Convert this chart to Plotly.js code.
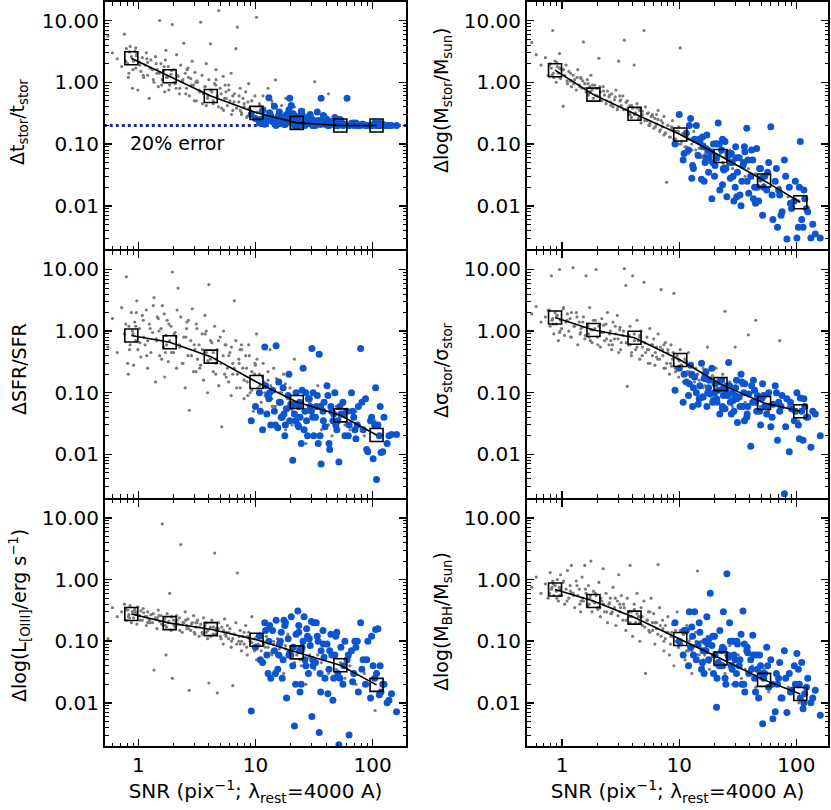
<!DOCTYPE html>
<html>
<head>
<meta charset="utf-8">
<script src="https://cdn.plot.ly/plotly-3.0.1.min.js"></script>
<style>
body { margin: 0; background: #fff; }
#graph { width: 831px; height: 810px; }
</style>
</head>
<body>
<div id="graph"></div>
<script>
// SNR of the simulated spectra (gray) and of the real spectra (blue), shared by all panels
let gray_snr = [
    0.55, 0.60, 0.66, 0.72, 0.76, 0.79, 0.81, 0.83, 0.85, 0.87,
    0.89, 0.91, 0.93, 0.95, 0.97, 0.99, 1.02, 1.05, 1.08, 1.11,
    1.14, 1.17, 1.20, 1.24, 1.28, 1.32, 1.36, 1.40, 1.44, 1.48,
    1.52, 1.56, 1.60, 1.64, 1.68, 1.72, 1.76, 1.80, 1.85, 1.90,
    1.95, 2.00, 2.06, 2.12, 2.18, 2.24, 2.30, 2.37, 2.44, 2.51,
    2.58, 2.65, 2.72, 2.80, 2.88, 2.96, 3.04, 3.12, 3.20, 3.30,
    3.40, 3.50, 3.60, 3.70, 3.80, 3.90, 4.00, 4.12, 4.24, 4.36,
    4.48, 4.60, 4.72, 4.85, 5.00, 5.15, 5.30, 5.45, 5.60, 5.75,
    5.90, 6.05, 6.20, 6.40, 6.60, 6.80, 7.00, 7.20, 7.40, 7.60,
    7.80, 8.00, 8.25, 8.50, 8.75, 9.00, 9.30, 9.60, 9.90, 10.2,
    10.5, 10.8, 11.2, 11.6, 12.0, 12.4, 12.8, 13.3, 13.8, 14.3,
    14.8, 15.4, 16.0, 16.7, 17.4, 18.1, 18.9, 19.7, 20.6, 21.5,
    22.5, 23.5, 24.6, 25.8, 27.0, 28.5, 30.0, 32.0, 34.0, 36.5,
    39.0, 42.0, 45.0, 49.0, 53.0, 58.0, 64.0, 72.0, 85.0, 105,
    0.78, 0.84, 0.90, 0.96, 1.03, 1.10, 1.18, 1.26, 1.34, 1.42,
    1.50, 1.58, 1.66, 1.74, 1.82, 1.92, 2.02, 2.14, 2.26, 2.40,
    2.54, 2.68, 2.84, 3.00, 3.16, 3.34, 3.52, 3.72, 3.92, 4.14,
    4.36, 4.58, 4.82, 5.08, 5.34, 5.62, 5.92, 6.24, 6.56, 6.90,
    7.25, 7.60, 8.00, 8.40, 8.85, 9.30, 9.80, 10.3, 10.9, 11.5,
    12.1, 12.8, 13.5, 14.3, 15.1, 16.0, 17.0, 18.0, 19.2, 20.5,
    0.82, 0.95, 1.2, 1.45, 1.7, 2.1, 2.6, 3.1, 3.8, 4.6,
    5.5, 6.4, 7.4, 8.6, 10.0, 11.8, 13.9, 16.5, 24.0, 29.0
];
let blue_snr = [
    9.2, 10.0, 10.8, 11.5, 12.0, 12.5, 13.0, 13.5, 14.0, 14.5,
    15.0, 15.5, 16.0, 16.6, 17.2, 17.8, 18.4, 19.0, 19.6, 20.2,
    20.8, 21.5, 22.2, 23.0, 23.8, 24.6, 25.5, 26.4, 27.3, 28.3,
    29.3, 30.3, 31.4, 32.5, 33.7, 35.0, 36.3, 37.7, 39.2, 40.8,
    42.4, 44.0, 45.8, 47.6, 49.5, 51.5, 53.6, 55.8, 58.0, 60.5,
    63.0, 66.0, 69.0, 72.0, 75.5, 79.0, 83.0, 87.0, 91.0, 96.0,
    101, 106, 108, 111, 114, 118, 125, 133, 145, 160,
    12.8, 15.8, 18.0, 21.0, 24.0, 27.8, 31.0, 34.3, 38.5, 46.5,
    11.0, 13.2, 14.8, 16.3, 17.5, 19.3, 22.0, 23.4, 25.0, 26.0,
    28.8, 30.8, 33.0, 35.6, 38.0, 41.5, 44.8, 48.5, 52.5, 56.8,
    62.0, 67.5, 74.0, 81.0, 89.0, 98.0, 104, 116, 122, 138,
    12.2, 16.9, 20.0, 23.4, 26.9, 30.0, 36.0, 43.0, 50.5, 70.5
];
let bin_snr = [0.87, 1.85, 4.15, 10.2, 22.5, 53, 108];

// panel 1: delta t_stor / t_stor
let tstor_gray = [
    5.6, 3.0, 2.4, 1.8, 6.0, 3.5, 2.0, 1.4, 3.8, 2.6,
    0.8, 2.2, 3.2, 1.7, 2.9, 0.75, 2.1, 1.5, 2.5, 1.2,
    1.9, 3.0, 1.3, 0.55, 2.3, 1.6, 1.0, 2.6, 1.4, 0.85,
    10.0, 2.0, 1.1, 1.5, 0.7, 3.3, 1.2, 1.8, 0.9, 1.35,
    8.6, 1.6, 0.95, 2.8, 1.25, 0.65, 1.9, 1.05, 4.3, 1.4,
    0.8, 1.7, 0.6, 1.15, 2.2, 0.9, 1.45, 0.5, 1.0, 0.75,
    9.4, 1.3, 0.65, 0.85, 2.0, 0.55, 1.1, 4.2, 0.7, 0.45,
    0.95, 1.6, 0.6, 14.5, 0.8, 0.38, 1.25, 0.55, 0.7, 0.42,
    0.9, 0.5, 1.4, 0.35, 0.65, 3.5, 7.8, 0.48, 0.8, 0.3,
    0.55, 0.4, 0.7, 0.28, 0.95, 0.36, 0.5, 0.25, 0.6, 11.3,
    0.33, 0.45, 0.27, 0.6, 0.38, 0.24, 0.8, 0.3, 0.5, 0.26,
    1.09, 0.35, 0.25, 0.42, 0.28, 0.55, 0.23, 0.32, 0.26, 0.4,
    0.24, 0.3, 0.22, 0.36, 0.26, 0.21, 0.28, 1.02, 0.24, 0.3,
    0.22, 0.65, 0.25, 0.21, 0.27, 0.22, 0.23, 0.21, 0.2, 0.2,
    2.2, 3.1, 1.6, 2.7, 1.9, 1.3, 2.4, 1.7, 1.1, 2.0,
    1.4, 0.9, 1.8, 1.2, 0.75, 1.55, 1.0, 1.3, 0.8, 1.1,
    0.65, 1.2, 0.9, 0.5, 1.05, 0.7, 0.45, 0.85, 0.6, 0.75,
    0.5, 0.9, 0.4, 0.65, 0.35, 0.55, 0.75, 0.3, 0.48, 0.38,
    0.6, 0.32, 0.45, 0.27, 0.38, 0.5, 0.25, 0.33, 0.42, 0.28,
    0.35, 0.26, 0.3, 0.23, 0.4, 0.25, 0.22, 0.3, 0.24, 0.21,
    1.2, 3.6, 2.1, 1.6, 2.3, 0.8, 1.6, 1.0, 0.42, 1.1,
    0.9, 0.6, 0.35, 0.48, 0.26, 0.3, 0.45, 0.28, 0.23, 0.25
];
let tstor_blue = [
    0.3, 0.26, 0.22, 0.35, 0.21, 0.25, 0.56, 0.29, 0.23, 0.41,
    0.2, 0.27, 0.33, 0.22, 0.25, 0.21, 0.3, 0.24, 0.55, 0.42,
    0.22, 0.2, 0.28, 0.25, 0.21, 0.34, 0.23, 0.2, 0.26, 0.22,
    0.3, 0.21, 0.24, 0.2, 0.33, 0.22, 0.55, 0.26, 0.21, 0.25,
    0.2, 0.23, 0.21, 0.27, 0.2, 0.22, 0.24, 0.2, 0.21, 0.55,
    0.2, 0.21, 0.2, 0.22, 0.2, 0.2, 0.21, 0.2, 0.2, 0.2,
    0.2, 0.21, 0.2, 0.2, 0.22, 0.2, 0.2, 0.2, 0.2, 0.2,
    0.24, 0.29, 0.21, 0.31, 0.23, 0.27, 0.2, 0.24, 0.28, 0.22,
    0.25, 0.32, 0.22, 0.28, 0.21, 0.36, 0.24, 0.2, 0.3, 0.22,
    0.26, 0.2, 0.23, 0.21, 0.29, 0.2, 0.22, 0.2, 0.25, 0.21,
    0.2, 0.22, 0.2, 0.21, 0.2, 0.2, 0.22, 0.2, 0.21, 0.2,
    0.27, 0.23, 0.26, 0.2, 0.24, 0.26, 0.21, 0.23, 0.2, 0.21
];
let tstor_bin = [2.45, 1.25, 0.6, 0.32, 0.22, 0.2, 0.2];

// panel 2: delta log(M_stor / M_sun)
let mstar_gray = [
    4.4, 2.8, 1.9, 2.5, 1.3, 2.0, 1.7, 6.9, 1.2, 2.2,
    1.0, 1.8, 1.4, 2.9, 1.15, 1.6, 0.41, 1.3, 1.9, 0.95,
    1.5, 1.05, 0.85, 1.3, 1.1, 0.75, 1.6, 0.9, 1.2, 0.8,
    4.5, 0.95, 0.7, 1.1, 0.62, 0.85, 1.3, 0.75, 0.55, 0.9,
    0.8, 0.6, 2.45, 0.7, 0.5, 0.85, 0.62, 0.45, 0.72, 0.58,
    0.48, 0.65, 0.4, 0.52, 0.75, 0.36, 2.2, 0.5, 0.42, 0.6,
    4.8, 0.36, 0.5, 0.3, 0.42, 0.27, 0.38, 1.9, 0.32, 0.45,
    0.26, 0.35, 0.22, 0.3, 6.9, 0.4, 0.24, 0.32, 0.2, 0.28,
    0.3, 0.18, 0.26, 0.21, 0.35, 0.16, 0.24, 0.19, 0.28, 0.15,
    0.024, 0.2, 0.13, 0.17, 0.24, 0.12, 0.16, 0.1, 0.19, 3.6,
    0.11, 0.15, 0.09, 0.13, 0.07, 0.12, 0.1, 0.16, 0.08, 0.11,
    0.085, 0.06, 0.1, 0.07, 0.09, 0.05, 0.08, 0.065, 0.11, 0.055,
    0.07, 0.05, 0.06, 0.045, 0.08, 0.04, 0.055, 0.035, 0.05, 0.03,
    0.04, 0.028, 0.033, 0.025, 0.022, 0.018, 0.006, 0.02, 0.014, 0.012,
    1.9, 1.4, 2.1, 1.2, 1.6, 1.05, 1.4, 0.95, 1.2, 0.85,
    1.05, 0.8, 0.95, 0.7, 0.9, 0.62, 0.8, 0.55, 0.72, 0.5,
    0.62, 0.45, 0.58, 0.4, 0.52, 0.36, 0.47, 0.32, 0.42, 0.3,
    0.38, 0.27, 0.34, 0.24, 0.31, 0.22, 0.28, 0.19, 0.25, 0.17,
    0.22, 0.15, 0.2, 0.13, 0.18, 0.12, 0.16, 0.1, 0.14, 0.09,
    0.12, 0.08, 0.11, 0.07, 0.1, 0.065, 0.09, 0.055, 0.08, 0.05,
    1.3, 1.7, 1.05, 1.15, 0.68, 0.85, 0.42, 0.6, 0.3, 0.38,
    0.2, 0.3, 0.14, 0.19, 0.1, 0.15, 0.07, 0.1, 0.045, 0.06
];
let mstar_blue = [
    0.1, 0.3, 0.055, 0.15, 0.08, 0.26, 0.045, 0.12, 0.2, 0.065,
    0.11, 0.027, 0.09, 0.05, 0.14, 0.035, 0.075, 0.013, 0.1, 0.045,
    0.06, 0.22, 0.018, 0.08, 0.04, 0.11, 0.014, 0.065, 0.028, 0.05,
    0.012, 0.09, 0.035, 0.06, 0.01, 0.045, 0.075, 0.18, 0.016, 0.03,
    0.055, 0.02, 0.085, 0.012, 0.04, 0.007, 0.03, 0.018, 0.05, 0.19,
    0.006, 0.025, 0.0045, 0.015, 0.008, 0.055, 0.0029, 0.02, 0.009, 0.012,
    0.003, 0.02, 0.11, 0.006, 0.0045, 0.013, 0.008, 0.003, 0.0035, 0.003,
    0.028, 0.13, 0.06, 0.1, 0.038, 0.07, 0.014, 0.025, 0.055, 0.02,
    0.07, 0.04, 0.12, 0.025, 0.08, 0.05, 0.1, 0.022, 0.04, 0.07,
    0.03, 0.06, 0.015, 0.05, 0.025, 0.08, 0.011, 0.04, 0.02, 0.035,
    0.015, 0.04, 0.007, 0.03, 0.011, 0.025, 0.0045, 0.018, 0.009, 0.005,
    0.2, 0.06, 0.03, 0.12, 0.05, 0.02, 0.09, 0.013, 0.028, 0.018
];
let mstar_bin = [1.57, 0.63, 0.31, 0.143, 0.064, 0.0256, 0.0114];

// panel 3: delta SFR / SFR
let sfr_gray = [
    0.55, 1.6, 0.45, 2.4, 0.9, 7.6, 0.3, 1.2, 0.6, 2.0,
    1.0, 0.28, 1.4, 0.7, 3.1, 0.5, 1.1, 0.38, 1.8, 0.8,
    0.6, 2.2, 0.25, 1.3, 0.45, 0.95, 3.5, 0.15, 0.7, 1.6,
    0.4, 1.1, 2.6, 0.55, 0.18, 0.85, 1.5, 0.32, 0.7, 1.2,
    9.1, 0.45, 0.95, 0.25, 5.0, 0.6, 1.7, 0.3, 0.8, 0.12,
    1.1, 0.4, 0.052, 0.7, 2.3, 0.22, 0.5, 1.3, 0.35, 0.6,
    0.28, 0.9, 0.16, 1.8, 0.45, 0.1, 5.7, 0.35, 0.65, 0.22,
    1.2, 0.3, 0.5, 0.13, 0.8, 0.028, 0.4, 0.2, 0.6, 0.25,
    0.15, 0.45, 0.09, 0.3, 3.1, 0.7, 0.2, 0.35, 0.12, 0.5,
    0.25, 0.08, 0.4, 0.15, 0.6, 0.1, 0.22, 0.05, 0.3, 0.9,
    0.12, 0.2, 0.07, 0.3, 0.1, 0.045, 0.16, 0.5, 0.08, 0.25,
    0.06, 0.14, 0.04, 0.1, 0.2, 0.025, 0.08, 0.12, 0.05, 0.35,
    0.07, 0.03, 0.11, 0.05, 0.015, 0.08, 0.04, 0.06, 0.13, 0.025,
    0.05, 0.03, 0.02, 0.06, 0.04, 0.03, 0.025, 0.05, 0.02, 0.035,
    1.3, 0.5, 0.9, 2.0, 0.65, 1.5, 0.4, 1.1, 2.6, 0.75,
    1.0, 0.35, 1.9, 0.6, 1.3, 0.45, 0.9, 2.2, 0.55, 0.3,
    0.8, 1.5, 0.4, 0.6, 1.1, 0.25, 0.5, 0.9, 0.33, 0.7,
    0.45, 0.2, 0.7, 0.3, 1.0, 0.18, 0.4, 0.55, 0.25, 0.12,
    0.3, 0.6, 0.16, 0.25, 0.4, 0.11, 0.2, 0.35, 0.13, 0.18,
    0.09, 0.22, 0.13, 0.06, 0.17, 0.1, 0.045, 0.14, 0.08, 0.03,
    0.2, 1.2, 0.7, 1.7, 0.45, 0.8, 1.4, 0.22, 1.0, 0.35,
    0.6, 0.2, 0.5, 0.09, 0.28, 0.15, 0.06, 0.1, 0.04, 0.07
];
let sfr_blue = [
    0.035, 0.06, 0.1, 0.025, 0.55, 0.045, 0.08, 0.03, 0.11, 0.05,
    0.58, 0.027, 0.07, 0.04, 0.12, 0.02, 0.055, 0.09, 0.035, 0.06,
    0.008, 0.045, 0.1, 0.03, 0.07, 0.015, 0.25, 0.05, 0.035, 0.08,
    0.06, 0.52, 0.02, 0.04, 0.09, 0.42, 0.007, 0.05, 0.028, 0.13,
    0.015, 0.06, 0.035, 0.1, 0.025, 0.0075, 0.045, 0.07, 0.02, 0.05,
    0.03, 0.1, 0.04, 0.018, 0.06, 0.52, 0.025, 0.08, 0.011, 0.035,
    0.0085, 0.12, 0.0039, 0.03, 0.02, 0.0107, 0.04, 0.015, 0.021, 0.021,
    0.09, 0.15, 0.03, 0.065, 0.04, 0.02, 0.1, 0.015, 0.07, 0.045,
    0.05, 0.1, 0.03, 0.07, 0.045, 0.2, 0.035, 0.06, 0.11, 0.025,
    0.08, 0.04, 0.06, 0.02, 0.035, 0.09, 0.05, 0.03, 0.06, 0.045,
    0.02, 0.05, 0.03, 0.07, 0.012, 0.04, 0.03, 0.06, 0.011, 0.02,
    0.13, 0.04, 0.065, 0.028, 0.1, 0.05, 0.06, 0.012, 0.035, 0.025
];
let sfr_bin = [0.85, 0.66, 0.385, 0.149, 0.0706, 0.043, 0.0206];

// panel 4: delta sigma_stor / sigma_stor
let sigma_gray = [
    1.9, 2.5, 1.4, 1.7, 2.2, 1.2, 7.9, 1.6, 0.9, 2.0,
    1.3, 1.8, 0.7, 10, 1.5, 1.1, 2.3, 0.85, 1.4, 1.9,
    1.0, 1.6, 0.8, 10.7, 1.2, 2.0, 0.6, 1.4, 0.95, 1.15,
    1.7, 0.75, 7.9, 1.3, 0.9, 2.4, 1.05, 0.65, 1.5, 1.1,
    10, 0.8, 1.2, 0.55, 1.6, 0.95, 0.7, 1.3, 2.0, 0.6,
    1.0, 0.5, 1.4, 0.75, 0.9, 1.8, 0.45, 1.15, 0.65, 0.85,
    10.3, 5.5, 0.127, 0.6, 1.2, 0.4, 7.9, 0.9, 0.5, 1.5,
    0.7, 0.35, 1.0, 0.55, 6.2, 0.45, 0.8, 0.3, 1.1, 0.6,
    0.4, 0.75, 0.28, 0.55, 0.9, 0.35, 4.7, 0.5, 0.25, 0.65,
    0.3, 0.45, 0.2, 0.6, 0.35, 4.1, 0.25, 0.4, 0.18, 0.5,
    0.28, 0.15, 0.35, 0.22, 0.45, 0.18, 0.3, 0.12, 0.25, 0.2,
    0.16, 0.3, 0.12, 0.22, 0.55, 0.1, 0.18, 0.14, 0.25, 0.08,
    0.12, 0.2, 2.1, 0.1, 0.15, 0.06, 0.55, 0.09, 0.13, 0.07,
    0.87, 0.1, 1.5, 0.06, 0.08, 0.05, 0.04, 0.7, 0.06, 0.035,
    2.2, 1.3, 1.8, 1.0, 2.4, 1.5, 0.8, 1.2, 1.7, 0.9,
    1.4, 0.85, 1.2, 0.7, 1.05, 1.5, 0.6, 0.95, 1.25, 0.75,
    0.9, 0.6, 1.2, 0.75, 0.5, 1.0, 0.65, 0.85, 0.45, 0.7,
    0.55, 0.8, 0.4, 0.65, 0.5, 0.3, 0.6, 0.45, 0.35, 0.55,
    0.4, 0.25, 0.5, 0.3, 0.45, 0.22, 0.35, 0.28, 0.2, 0.32,
    0.22, 0.28, 0.15, 0.2, 0.12, 0.25, 0.16, 0.1, 0.19, 0.13,
    1.5, 0.95, 2.0, 1.1, 0.8, 1.3, 0.7, 1.05, 0.6, 0.85,
    0.5, 0.38, 0.6, 0.27, 0.33, 0.2, 0.17, 0.13, 0.09, 0.1
];
let sigma_blue = [
    0.11, 0.25, 0.07, 0.15, 0.09, 0.28, 0.06, 0.18, 0.1, 0.065,
    0.13, 0.3, 0.085, 0.2, 0.06, 0.12, 0.095, 0.25, 0.075, 0.14,
    0.08, 0.11, 0.045, 0.16, 0.09, 0.055, 0.13, 0.31, 0.07, 0.1,
    0.05, 0.12, 0.033, 0.085, 0.2, 0.06, 0.14, 0.04, 0.095, 0.0135,
    0.07, 0.11, 0.05, 0.085, 0.03, 0.14, 0.06, 0.045, 0.1, 0.028,
    0.065, 0.13, 0.017, 0.05, 0.09, 0.0023, 0.08, 0.011, 0.055, 0.035,
    0.1, 0.018, 0.082, 0.05, 0.017, 0.06, 0.04, 0.013, 0.045, 0.02,
    0.2, 0.085, 0.16, 0.07, 0.12, 0.045, 0.08, 0.15, 0.06, 0.09,
    0.2, 0.12, 0.08, 0.17, 0.1, 0.07, 0.15, 0.055, 0.11, 0.09,
    0.075, 0.16, 0.06, 0.1, 0.045, 0.13, 0.07, 0.05, 0.09, 0.06,
    0.04, 0.1, 0.06, 0.028, 0.07, 0.05, 0.03, 0.08, 0.04, 0.05,
    0.14, 0.22, 0.1, 0.06, 0.13, 0.09, 0.035, 0.16, 0.08, 0.07
];
let sigma_bin = [1.66, 1.04, 0.78, 0.34, 0.138, 0.068, 0.05];

// panel 5: delta log(L_[OIII] / erg s^-1)
let oiii_gray = [
    0.11, 0.35, 0.25, 0.3, 0.4, 0.22, 0.32, 0.27, 0.38, 0.2,
    0.3, 0.24, 0.33, 0.28, 0.19, 0.36, 0.26, 0.31, 0.22, 0.29,
    0.25, 0.18, 0.3, 0.22, 0.27, 0.2, 0.034, 0.24, 0.16, 0.32,
    0.21, 0.26, 8.0, 0.18, 0.23, 0.06, 0.28, 0.2, 0.6, 0.15,
    0.025, 0.22, 0.17, 0.26, 0.19, 0.24, 3.7, 0.14, 0.2, 0.3,
    0.18, 0.23, 0.016, 0.15, 0.2, 0.26, 0.13, 0.17, 0.22, 0.12,
    0.19, 0.14, 0.24, 0.16, 0.2, 0.11, 0.021, 0.17, 0.22, 0.13,
    2.7, 0.15, 0.0145, 0.2, 0.12, 0.17, 0.09, 0.23, 0.14, 0.18,
    0.11, 0.16, 0.08, 0.019, 0.13, 0.2, 1.28, 0.1, 0.15, 0.07,
    0.12, 0.09, 0.18, 0.06, 0.14, 0.1, 0.25, 0.08, 0.11, 0.05,
    0.09, 0.13, 0.07, 0.1, 0.045, 0.12, 0.08, 0.16, 0.06, 0.1,
    0.07, 0.11, 0.055, 0.09, 0.03, 0.075, 0.13, 0.06, 0.085, 0.045,
    0.06, 0.08, 0.04, 0.07, 0.02, 0.055, 0.09, 0.035, 0.06, 0.045,
    0.05, 0.03, 0.06, 0.035, 0.045, 0.025, 0.04, 0.02, 0.03, 0.0075,
    0.33, 0.24, 0.3, 0.27, 0.22, 0.34, 0.25, 0.2, 0.28, 0.23,
    0.26, 0.19, 0.23, 0.17, 0.21, 0.25, 0.18, 0.22, 0.15, 0.2,
    0.22, 0.16, 0.19, 0.14, 0.2, 0.17, 0.13, 0.18, 0.15, 0.12,
    0.17, 0.13, 0.16, 0.11, 0.15, 0.12, 0.14, 0.1, 0.13, 0.09,
    0.12, 0.1, 0.14, 0.08, 0.11, 0.095, 0.07, 0.12, 0.085, 0.1,
    0.08, 0.1, 0.065, 0.09, 0.06, 0.075, 0.05, 0.085, 0.07, 0.055,
    0.25, 0.3, 0.2, 0.24, 0.18, 0.2, 0.16, 0.2, 0.14, 0.16,
    0.13, 0.11, 0.09, 0.12, 0.08, 0.09, 0.07, 0.06, 0.05, 0.06
];
let oiii_blue = [
    0.0074, 0.08, 0.12, 0.045, 0.2, 0.06, 0.1, 0.025, 0.15, 0.07,
    0.22, 0.035, 0.09, 0.14, 0.05, 0.18, 0.012, 0.11, 0.065, 0.25,
    0.04, 0.0042, 0.13, 0.31, 0.07, 0.02, 0.1, 0.05, 0.16, 0.03,
    0.085, 0.006, 0.2, 0.045, 0.12, 0.0033, 0.07, 0.15, 0.025, 0.09,
    0.035, 0.13, 0.011, 0.06, 0.14, 0.0021, 0.08, 0.02, 0.1, 0.05,
    0.003, 0.07, 0.03, 0.08, 0.015, 0.2, 0.05, 0.02, 0.1, 0.012,
    0.04, 0.155, 0.03, 0.16, 0.0135, 0.015, 0.02, 0.01, 0.014, 0.0072,
    0.03, 0.06, 0.2, 0.08, 0.015, 0.12, 0.04, 0.1, 0.055, 0.025,
    0.05, 0.18, 0.03, 0.1, 0.22, 0.06, 0.02, 0.14, 0.08, 0.25,
    0.11, 0.05, 0.2, 0.03, 0.09, 0.014, 0.06, 0.12, 0.025, 0.04,
    0.06, 0.022, 0.1, 0.035, 0.05, 0.12, 0.025, 0.04, 0.02, 0.011,
    0.15, 0.025, 0.06, 0.18, 0.04, 0.21, 0.015, 0.07, 0.03, 0.1
];
let oiii_bin = [0.277, 0.197, 0.157, 0.106, 0.066, 0.0407, 0.0196];

// panel 6: delta log(M_BH / M_sun)
let mbh_gray = [
    0.75, 1.1, 0.6, 0.85, 0.5, 1.3, 0.7, 0.95, 0.55, 0.8,
    0.65, 1.0, 0.45, 0.75, 1.2, 0.55, 0.9, 0.4, 0.7, 1.4,
    0.5, 0.8, 1.7, 0.6, 0.35, 0.95, 0.55, 0.7, 0.3, 1.1,
    0.45, 1.7, 0.6, 0.38, 0.8, 0.5, 2.0, 0.3, 0.65, 0.42,
    0.55, 0.35, 0.9, 0.25, 0.45, 1.5, 0.3, 0.6, 0.2, 0.4,
    0.5, 0.28, 0.75, 0.35, 0.18, 0.45, 1.2, 0.3, 0.55, 0.22,
    0.35, 0.15, 0.5, 0.25, 1.7, 0.3, 0.12, 0.4, 0.2, 0.6,
    0.25, 0.1, 0.35, 0.18, 0.45, 0.03, 0.22, 0.3, 0.14, 0.5,
    0.2, 0.28, 0.09, 0.16, 1.76, 0.35, 0.12, 0.22, 0.07, 0.18,
    0.14, 0.25, 0.06, 0.12, 0.19, 0.04, 0.1, 0.3, 0.08, 0.15,
    0.09, 0.13, 0.05, 0.18, 0.07, 0.11, 0.03, 0.08, 0.14, 1.38,
    0.06, 0.1, 0.04, 0.075, 0.12, 0.035, 0.055, 0.085, 0.025, 0.065,
    0.045, 0.07, 0.03, 0.055, 0.085, 0.02, 0.04, 0.06, 0.025, 0.035,
    0.03, 0.04, 0.018, 0.025, 0.035, 0.015, 0.02, 0.012, 0.018, 0.01,
    0.6, 0.85, 0.5, 0.7, 0.95, 0.45, 0.65, 0.55, 0.8, 0.4,
    0.5, 0.7, 0.38, 0.55, 0.45, 0.6, 0.33, 0.5, 0.4, 0.3,
    0.42, 0.3, 0.5, 0.26, 0.35, 0.4, 0.22, 0.3, 0.25, 0.33,
    0.28, 0.2, 0.25, 0.17, 0.22, 0.3, 0.15, 0.2, 0.13, 0.18,
    0.16, 0.11, 0.14, 0.09, 0.12, 0.15, 0.08, 0.1, 0.13, 0.07,
    0.1, 0.07, 0.085, 0.06, 0.08, 0.05, 0.07, 0.045, 0.06, 0.04,
    0.75, 0.55, 0.6, 0.45, 0.4, 0.35, 0.28, 0.4, 0.2, 0.25,
    0.15, 0.2, 0.1, 0.14, 0.09, 0.07, 0.1, 0.06, 0.04, 0.045
];
let mbh_blue = [
    0.2, 0.1, 0.06, 0.15, 0.04, 0.08, 0.12, 0.3, 0.05, 0.09,
    0.14, 0.035, 0.07, 0.1, 0.25, 0.05, 0.6, 0.085, 0.03, 0.06,
    0.0085, 0.045, 0.15, 0.07, 0.3, 0.025, 1.25, 0.055, 0.1, 0.035,
    0.06, 0.02, 0.09, 0.04, 0.13, 0.31, 0.015, 0.07, 0.03, 0.05,
    0.125, 0.025, 0.06, 0.012, 0.04, 0.0046, 0.03, 0.08, 0.018, 0.05,
    0.0055, 0.0072, 0.02, 0.045, 0.012, 0.07, 0.007, 0.03, 0.016, 0.04,
    0.063, 0.02, 0.012, 0.045, 0.008, 0.014, 0.025, 0.01, 0.016, 0.0063,
    0.17, 0.045, 0.11, 0.025, 0.075, 0.04, 0.1, 0.02, 0.065, 0.035,
    0.15, 0.06, 0.2, 0.03, 0.09, 0.12, 0.04, 0.08, 0.02, 0.06,
    0.1, 0.03, 0.05, 0.02, 0.08, 0.035, 0.015, 0.06, 0.025, 0.04,
    0.02, 0.03, 0.012, 0.025, 0.015, 0.02, 0.035, 0.01, 0.018, 0.012,
    0.3, 0.07, 0.12, 0.04, 0.2, 0.05, 0.09, 0.06, 0.03, 0.025
];
let mbh_bin = [0.69, 0.45, 0.242, 0.109, 0.0526, 0.0236, 0.0139];

let error_level = 0.2;

// minor tick positions on the log axes
let x_minor = [0.6, 0.7, 0.8, 0.9, 2, 3, 4, 5, 6, 7, 8, 9, 20, 30, 40, 50, 60, 70, 80, 90];
let y_minor = [0.003, 0.004, 0.005, 0.006, 0.007, 0.008, 0.009,
    0.02, 0.03, 0.04, 0.05, 0.06, 0.07, 0.08, 0.09,
    0.2, 0.3, 0.4, 0.5, 0.6, 0.7, 0.8, 0.9,
    2, 3, 4, 5, 6, 7, 8, 9];

let FONT = 'DejaVu Sans, Verdana, sans-serif';

let panels = [
    { gray: tstor_gray, blue: tstor_blue, bin: tstor_bin, col: 0, row: 0,
      title: 'Δt<sub>stor</sub>/t<sub>stor</sub>', ty: 122 },
    { gray: mstar_gray, blue: mstar_blue, bin: mstar_bin, col: 1, row: 0,
      title: 'Δlog(M<sub>stor</sub>/M<sub>sun</sub>)', ty: 100 },
    { gray: sfr_gray, blue: sfr_blue, bin: sfr_bin, col: 0, row: 1,
      title: 'ΔSFR/SFR', ty: 369 },
    { gray: sigma_gray, blue: sigma_blue, bin: sigma_bin, col: 1, row: 1,
      title: 'Δσ<sub>stor</sub>/σ<sub>stor</sub>', ty: 370 },
    { gray: oiii_gray, blue: oiii_blue, bin: oiii_bin, col: 0, row: 2,
      title: 'Δlog(L<sub>[OIII]</sub>/erg s<sup>−1</sup>)', ty: 616 },
    { gray: mbh_gray, blue: mbh_blue, bin: mbh_bin, col: 1, row: 2,
      title: 'Δlog(M<sub>BH</sub>/M<sub>sun</sub>)', ty: 622 }
];

let W = 831, H = 810;
let col_px = [[105, 406], [527, 828]];
let col_range = [[-0.285, 2.285], [-0.3, 2.27]];
// a 2 px gap between rows, where the shared border line sits
let row_px = [[2, 249], [251, 497.5], [499.5, 746]];
let y_range = [-2.7, 1.3];
let title_x = [19, 442];

function axis_base() {
    return {
        type: 'log',
        showline: true,
        linewidth: 2,
        linecolor: 'black',
        mirror: 'allticks',
        ticks: 'inside',
        ticklen: 7,
        tickwidth: 1.5,
        tickcolor: 'black',
        showgrid: false,
        zeroline: false,
        tickmode: 'linear',
        tick0: 0,
        dtick: 1,
        tickfont: { family: FONT, size: 20, color: 'black' },
        fixedrange: true
    };
}

function minor_axis(vals, range, overlay, anchor) {
    return {
        type: 'log',
        overlaying: overlay,
        anchor: anchor,
        range: range,
        showline: false,
        mirror: 'allticks',
        ticks: 'inside',
        ticklen: 3.5,
        tickwidth: 1,
        tickcolor: 'black',
        tickmode: 'array',
        tickvals: vals,
        showticklabels: false,
        showgrid: false,
        zeroline: false,
        fixedrange: true
    };
}

let traces = [];
let layout = {
    width: W,
    height: H,
    margin: { l: 0, r: 0, t: 0, b: 0 },
    paper_bgcolor: 'white',
    plot_bgcolor: 'rgba(0,0,0,0)',
    showlegend: false,
    font: { family: FONT, size: 20, color: 'black' },
    annotations: []
};

panels.forEach((p, index) => {
    let n = index + 1;
    let xa = n === 1 ? 'x' : 'x' + n;
    let ya = n === 1 ? 'y' : 'y' + n;
    let xm = 'x' + (n + 6);
    let ym = 'y' + (n + 6);

    let xaxis = axis_base();
    xaxis.domain = [col_px[p.col][0] / W, col_px[p.col][1] / W];
    xaxis.range = col_range[p.col];
    xaxis.anchor = ya;
    xaxis.showticklabels = p.row === 2;
    if (p.row === 2) {
        xaxis.title = {
            text: 'SNR (pix<sup>−1</sup>; λ<sub>rest</sub>=4000 A)',
            font: { family: FONT, size: 20, color: 'black' },
            standoff: 6
        };
    }

    let yaxis = axis_base();
    yaxis.domain = [1 - row_px[p.row][1] / H, 1 - row_px[p.row][0] / H];
    yaxis.range = y_range;
    yaxis.anchor = xa;
    yaxis.tickformat = '.2f';

    layout['xaxis' + (n === 1 ? '' : n)] = xaxis;
    layout['yaxis' + (n === 1 ? '' : n)] = yaxis;
    layout['xaxis' + (n + 6)] = minor_axis(x_minor, col_range[p.col], xa, ym);
    layout['yaxis' + (n + 6)] = minor_axis(y_minor, y_range, ya, xm);

    // empty trace so the minor-tick axes get drawn
    traces.push({ x: [], y: [], xaxis: xm, yaxis: ym, mode: 'markers', hoverinfo: 'skip' });

    if (index === 0) {
        // 20% error reference line
        traces.push({
            x: [0.4, 250],
            y: [error_level, error_level],
            xaxis: xa, yaxis: ya,
            mode: 'lines',
            line: { color: '#1c2a9e', width: 3, dash: 'dot' },
            hoverinfo: 'skip'
        });
        layout.annotations.push({
            xref: xa, yref: ya,
            x: -0.09, y: Math.log10(0.105),
            xanchor: 'left', yanchor: 'middle',
            text: '20% error',
            showarrow: false,
            font: { family: FONT, size: 19, color: 'black' }
        });
    }

    traces.push({
        x: gray_snr, y: p.gray,
        xaxis: xa, yaxis: ya,
        mode: 'markers',
        type: 'scatter',
        marker: { color: '#7a7a7a', size: 3.2 },
        hoverinfo: 'skip'
    });
    traces.push({
        x: blue_snr, y: p.blue,
        xaxis: xa, yaxis: ya,
        mode: 'markers',
        type: 'scatter',
        marker: { color: '#0b55d0', size: 7 },
        hoverinfo: 'skip'
    });
    traces.push({
        x: bin_snr, y: p.bin,
        xaxis: xa, yaxis: ya,
        mode: 'lines+markers',
        type: 'scatter',
        line: { color: 'black', width: 1.6 },
        marker: { symbol: 'square-open', size: 13, color: 'black', line: { width: 1.6, color: 'black' } },
        hoverinfo: 'skip'
    });

    layout.annotations.push({
        xref: 'paper', yref: 'paper',
        x: title_x[p.col] / W, y: 1 - p.ty / H,
        xanchor: 'center', yanchor: 'middle',
        textangle: -90,
        text: p.title,
        showarrow: false,
        font: { family: FONT, size: 19, color: 'black' }
    });
});

Plotly.newPlot('graph', traces, layout, { staticPlot: true });
</script>
</body>
</html>
